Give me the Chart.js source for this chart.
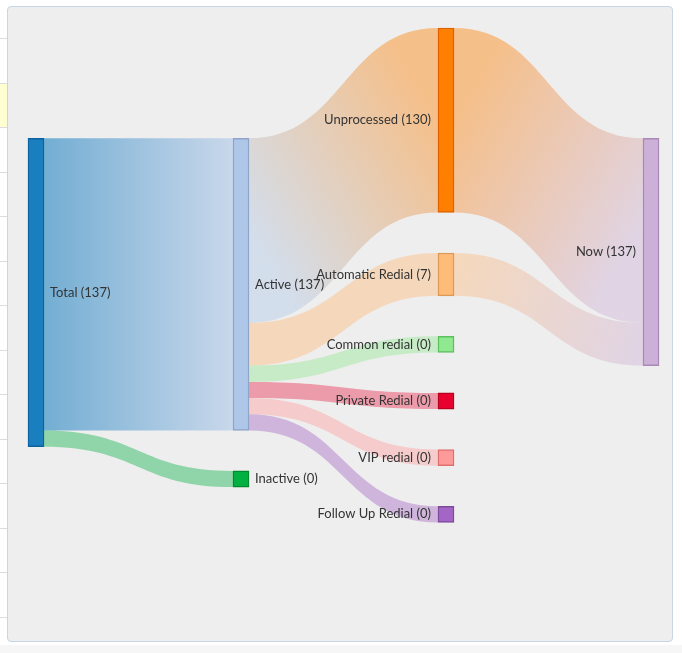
<!DOCTYPE html>
<html>
<head>
<meta charset="utf-8">
<script src="https://cdn.jsdelivr.net/npm/chart.js@4.4.1/dist/chart.umd.min.js"></script>
<style>
  html, body { margin: 0; padding: 0; background: #fff; width: 682px; height: 653px; overflow: hidden; }
  #strip { position: absolute; left: 0; top: 0; width: 7px; height: 645px; }
  #strip .row { position: absolute; left: 0; width: 7px; border-top: 1px solid #dcdcdc; }
  #strip .hl { position: absolute; left: 0; width: 7px; top: 83px; height: 44px; background: #ffffd2; }
  #footer { position: absolute; left: 0; top: 645px; width: 682px; height: 8px; background: #f6f6f6; }
  #panel { position: absolute; left: 7px; top: 6px; width: 664px; height: 634px; background: #eeeeee; border: 1px solid #c8d5e2; border-radius: 4px; }
  #chart-box { position: absolute; left: 0; top: 0; width: 664px; height: 634px; }
</style>
</head>
<body>
<div id="strip"><div class="hl"></div></div>
<div id="footer"></div>
<div id="panel">
  <div id="chart-box"><canvas id="sankeyChart"></canvas></div>
</div>
<script>
// Dữ liệu
const nodeNames = ["Total", "Active", "Inactive", "Unprocessed", "Automatic Redial",
  "Common redial", "Private Redial", "VIP redial", "Follow Up Redial", "Now"];
const linkSources = [0, 0, 1, 1, 1, 1, 1, 1, 3, 4];
const linkTargets = [1, 2, 3, 4, 5, 6, 7, 8, 9, 9];
const linkValues = [137, 0, 130, 7, 0, 0, 0, 0, 130, 7];

// Màu
const nodeFill = ["#1a7fbf", "#aec7e8", "#00b040", "#ff7f00", "#ffbb78",
  "#90e890", "#e8002e", "#ff9a9a", "#a466c4", "#cdb0d8"];
const nodeBorder = ["#0d62a0", "#8fa5c8", "#008a30", "#e06000", "#dd9955",
  "#5cc05c", "#b8001e", "#e07070", "#7d4a9c", "#a88ab8"];
const linkMode = ["gradient", "target", "gradient", "target", "target",
  "target", "target", "target", "gradient", "gradient"];
const linkAlpha = [0.58, 0.4, 0.42, 0.42, 0.42, 0.35, 0.42, 0.42, 0.42, 0.42];

const NODE_PAD = 2.5;       // khoảng cách giữa các node (đơn vị luồng)
const BOTTOM_SLACK = 0.07;  // chừa thêm phía dưới trục y

// dải trang trí bên trái
const strip = document.getElementById("strip");
for (let k = 0; k < 14; k++) {
  const r = document.createElement("div");
  r.className = "row";
  r.style.top = (38 + k * 44.5) + "px";
  strip.appendChild(r);
}

function rgba(hex, a) {
  const n = parseInt(hex.slice(1), 16);
  return "rgba(" + (n >> 16) + "," + ((n >> 8) & 255) + "," + (n & 255) + "," + a + ")";
}

// ---- layout ----
const links = linkValues.map((v, i) => ({ i: i, source: linkSources[i], target: linkTargets[i], value: v }));
const outLinks = nodeNames.map(() => []);
const inLinks = nodeNames.map(() => []);
links.forEach((l) => { outLinks[l.source].push(l); inLinks[l.target].push(l); });

// độ dày luồng: căn bậc hai của giá trị, tối thiểu 1 để luồng rỗng vẫn hiện
function linkWeight(l) {
  if (l.w == null) {
    const outs = outLinks[l.target];
    l.w = outs.length ? outs.reduce((s, o) => s + linkWeight(o), 0) : Math.max(1, Math.sqrt(l.value));
  }
  return l.w;
}
links.forEach(linkWeight);

const depth = [];
function nodeDepth(n) {
  if (depth[n] == null) {
    depth[n] = inLinks[n].length ? Math.max(...inLinks[n].map((l) => nodeDepth(l.source) + 1)) : 0;
  }
  return depth[n];
}
const nodes = nodeNames.map((name, n) => {
  const wIn = inLinks[n].reduce((s, l) => s + l.w, 0);
  const wOut = outLinks[n].reduce((s, l) => s + l.w, 0);
  const cIn = inLinks[n].reduce((s, l) => s + l.value, 0);
  const cOut = outLinks[n].reduce((s, l) => s + l.value, 0);
  return { n: n, name: name, depth: nodeDepth(n), w: Math.max(wIn, wOut), count: Math.max(cIn, cOut) };
});
const maxDepth = Math.max(...depth);
const columns = [];
nodes.forEach((nd) => { (columns[nd.depth] = columns[nd.depth] || []).push(nd); });

const H = Math.max(...columns.map((c) => c.reduce((s, nd) => s + nd.w, 0) + (c.length - 1) * NODE_PAD));
const yMax = H * (1 + BOTTOM_SLACK);

// cột đầu: căn giữa trục y
(function () {
  const c = columns[0];
  let y = (yMax - (c.reduce((s, nd) => s + nd.w, 0) + (c.length - 1) * NODE_PAD)) / 2;
  c.forEach((nd) => { nd.natural = y; nd.y0 = y; nd.y1 = y + nd.w; y = nd.y1 + NODE_PAD; });
})();

// các cột sau: nối thẳng theo luồng vào, rồi đẩy cho khỏi chồng nhau
for (let d = 1; d <= maxDepth; d++) {
  const c = columns[d];
  c.forEach((nd) => {
    let sum = 0, wsum = 0;
    inLinks[nd.n].forEach((l) => {
      const src = nodes[l.source];
      let off = 0;
      for (const o of outLinks[l.source]) { if (o === l) break; off += o.w; }
      let offIn = 0;
      for (const o of inLinks[nd.n]) { if (o === l) break; offIn += o.w; }
      sum += (src.natural + off - offIn) * l.w;
      wsum += l.w;
    });
    nd.natural = sum / wsum;
  });
  c.sort((a, b) => a.natural - b.natural);
  let y = 0;
  c.forEach((nd) => { nd.y0 = Math.max(y, nd.natural); nd.y1 = nd.y0 + nd.w; y = nd.y1 + NODE_PAD; });
  let bottom = H;
  for (let k = c.length - 1; k >= 0; k--) {
    const nd = c[k];
    if (nd.y1 > bottom) { nd.y1 = bottom; nd.y0 = bottom - nd.w; }
    bottom = nd.y0 - NODE_PAD;
  }
}

// vị trí luồng trong từng node
nodes.forEach((nd) => {
  let off = 0;
  outLinks[nd.n].slice().sort((a, b) => nodes[a.target].y0 - nodes[b.target].y0)
    .forEach((l) => { l.sy = nd.y0 + off; off += l.w; });
  off = 0;
  inLinks[nd.n].slice().sort((a, b) => nodes[a.source].y0 - nodes[b.source].y0)
    .forEach((l) => { l.ty = nd.y0 + off; off += l.w; });
});

// ---- vẽ ----
const sankeyLinks = {
  id: "sankeyLinks",
  beforeDatasetsDraw(chart) {
    const ctx = chart.ctx;
    const xs = chart.scales.x, ys = chart.scales.y;
    const bars = chart.getDatasetMeta(0).data;
    ctx.save();
    links.forEach((l) => {
      const sx = xs.getPixelForValue(nodes[l.source].depth) + bars[l.source].width / 2;
      const tx = xs.getPixelForValue(nodes[l.target].depth) - bars[l.target].width / 2;
      const s0 = ys.getPixelForValue(l.sy), s1 = ys.getPixelForValue(l.sy + l.w);
      const t0 = ys.getPixelForValue(l.ty), t1 = ys.getPixelForValue(l.ty + l.w);
      const mx = (sx + tx) / 2;
      const a = linkAlpha[l.i];
      if (linkMode[l.i] === "gradient") {
        // gradient theo đường nối tâm hai đầu luồng
        const g = ctx.createLinearGradient(sx, (s0 + s1) / 2, tx, (t0 + t1) / 2);
        g.addColorStop(0, rgba(nodeFill[l.source], a));
        g.addColorStop(1, rgba(nodeFill[l.target], a));
        ctx.fillStyle = g;
      } else {
        ctx.fillStyle = rgba(nodeFill[l.target], a);
      }
      ctx.beginPath();
      ctx.moveTo(sx, s0);
      ctx.bezierCurveTo(mx, s0, mx, t0, tx, t0);
      ctx.lineTo(tx, t1);
      ctx.bezierCurveTo(mx, t1, mx, s1, sx, s1);
      ctx.closePath();
      ctx.fill();
    });
    ctx.restore();
  },
  afterDatasetsDraw(chart) {
    const ctx = chart.ctx;
    const xs = chart.scales.x, ys = chart.scales.y;
    const bars = chart.getDatasetMeta(0).data;
    ctx.save();
    ctx.font = "13px Lato";
    ctx.fillStyle = "#333333";
    ctx.textBaseline = "middle";
    nodes.forEach((nd) => {
      const cx = xs.getPixelForValue(nd.depth);
      const cy = ys.getPixelForValue((nd.y0 + nd.y1) / 2);
      const label = nd.name + " (" + nd.count + ")";
      if (nd.depth < maxDepth / 2) {
        ctx.textAlign = "left";
        ctx.fillText(label, cx + bars[nd.n].width / 2 + 6, cy);
      } else {
        ctx.textAlign = "right";
        ctx.fillText(label, cx - bars[nd.n].width / 2 - 7, cy);
      }
    });
    ctx.restore();
  }
};

const byIndex = nodes.slice().sort((a, b) => a.n - b.n);
new Chart(document.getElementById("sankeyChart"), {
  type: "bar",
  data: {
    datasets: [{
      data: byIndex.map((nd) => ({ x: nd.depth, y: [nd.y0, nd.y1] })),
      backgroundColor: nodeFill,
      borderColor: nodeBorder,
      borderWidth: 1.5,
      borderSkipped: false,
      barThickness: 16,
      clip: false
    }]
  },
  options: {
    animation: false,
    responsive: true,
    maintainAspectRatio: false,
    layout: { padding: { left: 28, right: 21, top: 21, bottom: 84 } },
    scales: {
      x: { type: "linear", min: 0, max: maxDepth, offset: false, display: false },
      y: { min: 0, max: yMax, reverse: true, display: false }
    },
    plugins: { legend: { display: false }, tooltip: { enabled: false } }
  },
  plugins: [sankeyLinks]
});
</script>
</body>
</html>
